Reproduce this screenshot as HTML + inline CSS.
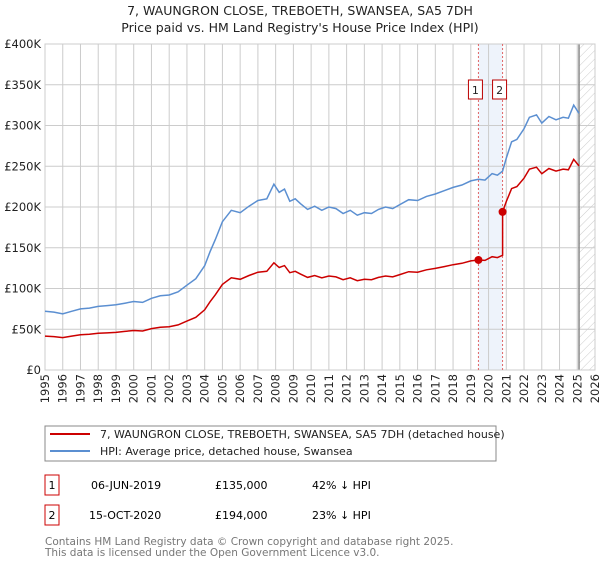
<!DOCTYPE html>
<html><head><meta charset="utf-8"><style>
body{margin:0;background:#fff;font-family:"DejaVu Sans","Liberation Sans",sans-serif;}
svg text{font-family:"DejaVu Sans","Liberation Sans",sans-serif;}
</style></head><body>
<svg id="c" width="600" height="560" xmlns="http://www.w3.org/2000/svg">
<defs><pattern id="hatch" width="6" height="6" patternUnits="userSpaceOnUse" patternTransform="rotate(45)"><line x1="0" y1="0" x2="0" y2="6" stroke="#ccc" stroke-width="1"/></pattern></defs>
<text x="300" y="15" text-anchor="middle" font-size="12.5" fill="#222">7, WAUNGRON CLOSE, TREBOETH, SWANSEA, SA5 7DH</text>
<text x="300" y="32" text-anchor="middle" font-size="12.5" fill="#222">Price paid vs. HM Land Registry's House Price Index (HPI)</text>
<g id="grid"></g><g id="axes"></g><g id="series"></g>
<rect x="45" y="426" width="451" height="35" fill="#fff" stroke="#888"/>
<line x1="50" y1="434" x2="90" y2="434" stroke="#cc0000" stroke-width="2"/>
<text x="100" y="438" font-size="11" fill="#222">7, WAUNGRON CLOSE, TREBOETH, SWANSEA, SA5 7DH (detached house)</text>
<line x1="50" y1="451" x2="90" y2="451" stroke="#5b8fd1" stroke-width="2"/>
<text x="100" y="455" font-size="11" fill="#222">HPI: Average price, detached house, Swansea</text>
<g>
<rect x="45" y="475" width="14" height="20" fill="#fff" stroke="#c00"/>
<text x="52" y="489" text-anchor="middle" font-size="11">1</text>
<text x="91" y="489" font-size="11">06-JUN-2019</text>
<text x="215" y="489" font-size="11">£135,000</text>
<text x="312" y="489" font-size="11">42% ↓ HPI</text></g>
<g>
<rect x="45" y="505" width="14" height="20" fill="#fff" stroke="#c00"/>
<text x="52" y="519" text-anchor="middle" font-size="11">2</text>
<text x="89" y="519" font-size="11">15-OCT-2020</text>
<text x="215" y="519" font-size="11">£194,000</text>
<text x="312" y="519" font-size="11">23% ↓ HPI</text></g>
<text x="45" y="545" font-size="10.5" fill="#777">Contains HM Land Registry data © Crown copyright and database right 2025.</text>
<text x="45" y="556" font-size="10.5" fill="#777">This data is licensed under the Open Government Licence v3.0.</text>
</svg>
<script>
const hpiYears=[1995,1995.5,1996,1996.5,1997,1997.5,1998,1998.5,1999,1999.5,2000,2000.5,2001,2001.5,2002,2002.5,2003,2003.5,2004,2004.3,2004.6,2005,2005.5,2006,2006.5,2007,2007.5,2007.9,2008.2,2008.5,2008.8,2009.1,2009.4,2009.8,2010.2,2010.6,2011,2011.4,2011.8,2012.2,2012.6,2013,2013.4,2013.8,2014.2,2014.6,2015,2015.5,2016,2016.5,2017,2017.5,2018,2018.5,2019,2019.43,2019.8,2020.2,2020.5,2020.79,2021,2021.3,2021.6,2022,2022.3,2022.7,2023,2023.4,2023.8,2024.2,2024.5,2024.8,2025.1];
const hpiValues=[72,71,69,72,75,76,78,79,80,82,84,83,88,91,92,96,104,112,128,145,160,182,196,193,201,208,210,228,218,222,207,210,204,197,201,196,200,198,192,196,190,193,192,197,200,198,203,209,208,213,216,220,224,227,232,234,233,241,239,244,260,280,283,296,310,313,303,311,307,310,309,325,315];
const saleDates=[2019.43,2020.79];
const salePrices=[135,194];
const yTicks=[0,50,100,150,200,250,300,350,400];
const yTickLabels=["£0","£50K","£100K","£150K","£200K","£250K","£300K","£350K","£400K"];
const xTicks=[1995,1996,1997,1998,1999,2000,2001,2002,2003,2004,2005,2006,2007,2008,2009,2010,2011,2012,2013,2014,2015,2016,2017,2018,2019,2020,2021,2022,2023,2024,2025,2026];

const X0=45,X1=595,Y0=370,Y1=44;
const x=t=>X0+(t-1995)/(2026-1995)*(X1-X0);
const y=v=>Y0-v/400*(Y0-Y1);
const NS="http://www.w3.org/2000/svg";
function mk(tag,parent,attrs){const e=document.createElementNS(NS,tag);for(const k in attrs)e.setAttribute(k,attrs[k]);parent.appendChild(e);return e;}
const grid=document.getElementById('grid'),axes=document.getElementById('axes'),ser=document.getElementById('series');
let sh=mk('rect',grid,{x:x(saleDates[0]),y:Y1,width:x(saleDates[1])-x(saleDates[0]),height:Y0-Y1,fill:'#eef3fb'});


yTicks.forEach((v,i)=>{
  let l=mk('line',grid,{x1:X0,x2:X1,y1:y(v),y2:y(v),stroke:'#ccc'});
  
  
  let t=mk('text',axes,{x:X0-4,y:y(v)+4,'text-anchor':'end','font-size':'11.5',fill:'#222'});
  t.textContent=yTickLabels[i];
  
  
});
xTicks.forEach(v=>{
  let l=mk('line',grid,{x1:x(v),x2:x(v),y1:Y1,y2:Y0,stroke:'#ccc'});
  
  
  const tx=x(v)+4,ty=374;
  let t=mk('text',axes,{x:tx,y:ty,'text-anchor':'end','font-size':'11.5',fill:'#222',transform:'rotate(-90 '+tx+' '+ty+')'});
  t.textContent=v;
  
  
});
const last=hpiYears[hpiYears.length-1];
let hr=mk('rect',grid,{x:x(last),y:Y1,width:X1-x(last),height:Y0-Y1,fill:'url(#hatch)'});


let hl=mk('line',grid,{x1:x(last),x2:x(last),y1:Y1,y2:Y0,stroke:'#888','stroke-width':1.5});


let fr=mk('rect',grid,{x:X0,y:Y1,width:X1-X0,height:Y0-Y1,fill:'none',stroke:'#ccc'});


saleDates.forEach((d,i)=>{
  let l=mk('line',grid,{x1:x(d),x2:x(d),y1:Y1,y2:Y0,stroke:'#e06666','stroke-dasharray':'2,2'});
  
  
  const bx=x(d)-10;
  let b=mk('rect',axes,{x:bx,y:80,width:14,height:19,fill:'#fff',stroke:'#b00'});
  
  
  let t=mk('text',axes,{x:bx+7,y:94,'text-anchor':'middle','font-size':'11',fill:'#222'});
  t.textContent=i+1;
  
  
});
function hpiAt(t){for(let i=1;i<hpiYears.length;i++){if(t<=hpiYears[i]){const a=hpiYears[i-1],b=hpiYears[i];return hpiValues[i-1]+(hpiValues[i]-hpiValues[i-1])*(t-a)/(b-a);}}return hpiValues[hpiValues.length-1];}
let hp=mk('path',ser,{d:hpiYears.map((t,i)=>(i?'L':'M')+x(t).toFixed(1)+','+y(hpiValues[i]).toFixed(1)).join(''),fill:'none',stroke:'#5b8fd1','stroke-width':1.5});


const r0=salePrices[0]/hpiAt(saleDates[0]),r1=salePrices[1]/hpiAt(saleDates[1]);
let pts=[];
hpiYears.forEach((t,i)=>{if(t<saleDates[0])pts.push([t,hpiValues[i]*r0]);});
pts.push([saleDates[0],salePrices[0]]);
hpiYears.forEach((t,i)=>{if(t>saleDates[0]&&t<saleDates[1])pts.push([t,hpiValues[i]*r0]);});
pts.push([saleDates[1],hpiAt(saleDates[1])*r0]);
pts.push([saleDates[1],salePrices[1]]);
hpiYears.forEach((t,i)=>{if(t>saleDates[1])pts.push([t,hpiValues[i]*r1]);});
let pp=mk('path',ser,{d:pts.map((p,i)=>(i?'L':'M')+x(p[0]).toFixed(1)+','+y(p[1]).toFixed(1)).join(''),fill:'none',stroke:'#cc0000','stroke-width':1.5});


saleDates.forEach((d,i)=>{
  let c=mk('circle',ser,{cx:x(d),cy:y(salePrices[i]),r:4,fill:'#cc0000'});
  
  
});
</script>
</body></html>
